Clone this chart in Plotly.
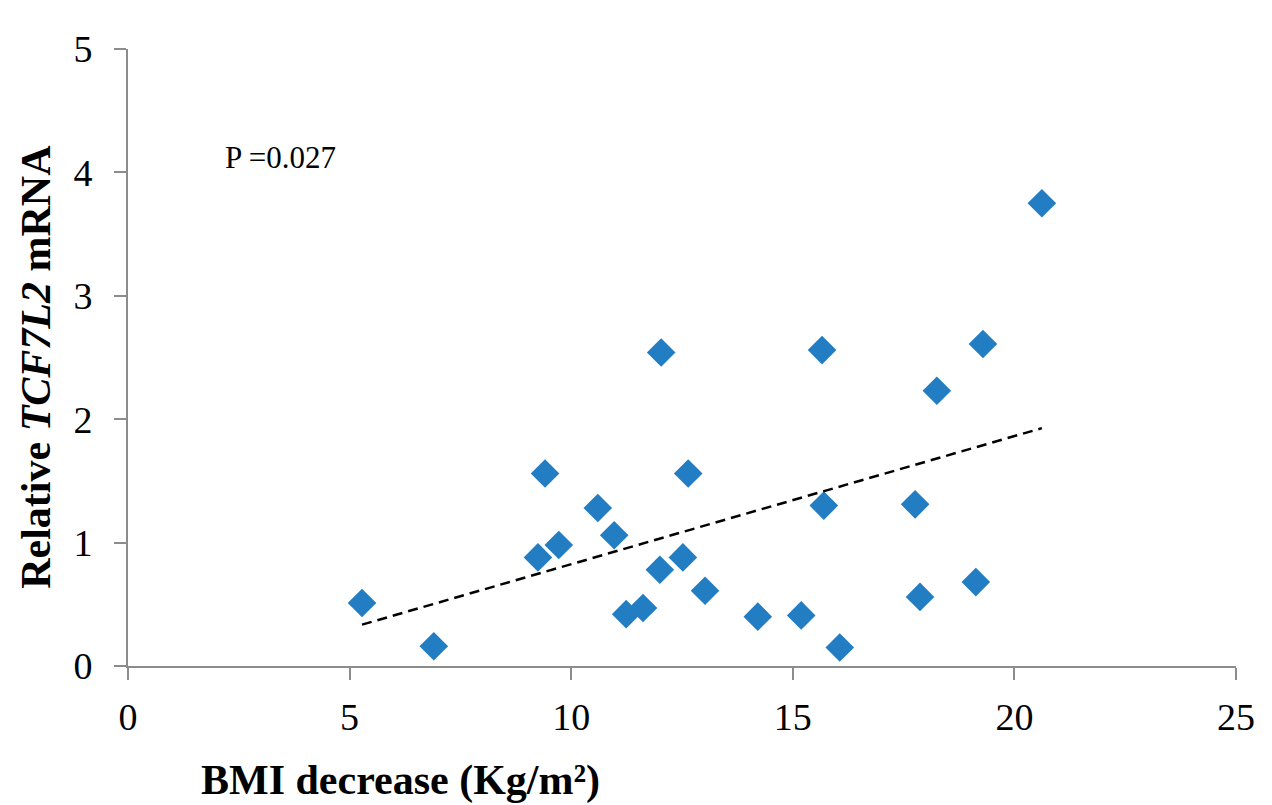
import numpy as np
import plotly.graph_objects as go

# Data
bmi_decrease = [5.28, 6.90, 9.25, 9.41, 9.72, 10.60, 10.97, 11.24, 11.62, 12.00,
                12.03, 12.52, 12.64, 13.02, 14.21, 15.19, 15.66, 15.70, 16.06, 17.76,
                17.87, 18.25, 19.13, 19.29, 20.62]
tcf7l2_mrna = [0.51, 0.16, 0.88, 1.56, 0.98, 1.28, 1.06, 0.42, 0.47, 0.78,
               2.54, 0.88, 1.56, 0.61, 0.40, 0.41, 2.56, 1.30, 0.15, 1.31,
               0.56, 2.23, 0.68, 2.61, 3.75]
x_ticks = [0, 5, 10, 15, 20, 25]
y_ticks = [0, 1, 2, 3, 4, 5]
p_label = "P =0.027"

# Linear trend line fitted on the data
slope, intercept = np.polyfit(bmi_decrease, tcf7l2_mrna, 1)
trend_x = [min(bmi_decrease), max(bmi_decrease)]
trend_y = [slope * v + intercept for v in trend_x]

SERIF = "Liberation Serif, Times New Roman, serif"
AXIS_GRAY = "#8c8c8c"

fig = go.Figure()
fig.add_trace(go.Scatter(
    x=bmi_decrease, y=tcf7l2_mrna, mode="markers",
    marker=dict(symbol="diamond", size=22, color="#237DC3", line=dict(width=0)),
    showlegend=False, hoverinfo="x+y"))
fig.add_trace(go.Scatter(
    x=trend_x, y=trend_y, mode="lines",
    line=dict(color="black", width=2.5, dash="10px,6px"),
    showlegend=False, hoverinfo="skip"))

axis_common = dict(
    showgrid=False, zeroline=False, showline=True, linecolor=AXIS_GRAY, linewidth=2,
    ticks="outside", ticklen=12, tickwidth=2, tickcolor=AXIS_GRAY,
    tickfont=dict(family=SERIF, size=38, color="black"))

fig.update_layout(
    width=1272, height=805,
    margin=dict(l=120, r=44, t=41, b=147),
    paper_bgcolor="white", plot_bgcolor="white",
    xaxis=dict(range=[0, 25], tickvals=x_ticks, ticklabelstandoff=4, **axis_common),
    yaxis=dict(range=[0, 5], tickvals=y_ticks, ticklabelstandoff=14, **axis_common),
    annotations=[
        dict(text="<b>BMI decrease (Kg/m²)</b>", xref="paper", yref="paper",
             x=0.2455, y=-0.185, xanchor="center", yanchor="middle", showarrow=False,
             font=dict(family=SERIF, size=42, color="black")),
        dict(text="<b>Relative <i>TCF7L2</i> mRNA</b>", xref="paper", yref="paper",
             x=-0.083, y=0.485, xanchor="center", yanchor="middle", showarrow=False,
             textangle=-90, font=dict(family=SERIF, size=42, color="black")),
        dict(text=p_label, xref="x", yref="y", x=3.43, y=4.12,
             xanchor="center", yanchor="middle", showarrow=False,
             font=dict(family=SERIF, size=31, color="black")),
    ],
)

fig.write_html("out.html")
